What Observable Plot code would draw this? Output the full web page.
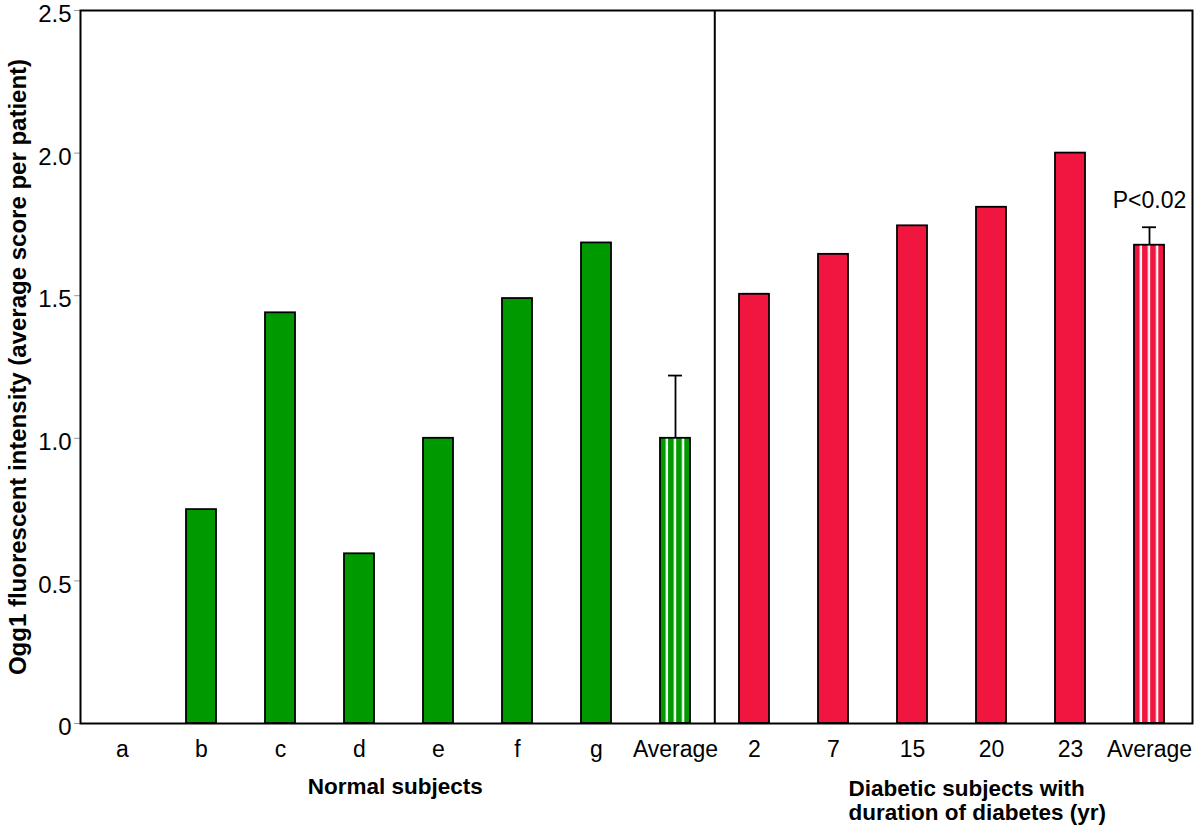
<!DOCTYPE html>
<html><head><meta charset="utf-8">
<script src="https://cdn.jsdelivr.net/npm/d3@7"></script>
<script src="https://cdn.jsdelivr.net/npm/@observablehq/plot@0.6"></script>
<style>body{margin:0;background:#fff}#chart{width:1198px;height:832px}</style>
</head><body><div id="chart"></div>
<script>
// ---- data ----
const normalLabels = ["a", "b", "c", "d", "e", "f", "g"];
const normalValues = [0, 0.75, 1.44, 0.595, 1.0, 1.49, 1.685];
const normalAverage = 1.0;
const normalError = 0.22;
const diabeticLabels = ["2", "7", "15", "20", "23"];
const diabeticValues = [1.505, 1.645, 1.745, 1.81, 2.0];
const diabeticAverage = 1.677;
const diabeticError = 0.063;
const averageLabel = "Average";
const yTicks = [0, 0.5, 1.0, 1.5, 2.0, 2.5];
const yLabel = "Ogg1 fluorescent intensity (average score per patient)";
const groupLabels = ["Normal subjects", "Diabetic subjects with\nduration of diabetes (yr)"];
const pLabel = "P<0.02";
const greenColor = "#009a00";
const redColor = "#f0163f";

// ---- tables ----
const bars = [
  ...normalLabels.map((l, i) => ({key: "N:" + l, value: normalValues[i], group: "normal"})),
  ...diabeticLabels.map((l, i) => ({key: "D:" + l, value: diabeticValues[i], group: "diabetic"}))
];
const avgs = [
  {key: "N:" + averageLabel, value: normalAverage, err: normalError, group: "normal"},
  {key: "D:" + averageLabel, value: diabeticAverage, err: diabeticError, group: "diabetic"}
];
const domain = [
  ...normalLabels.map(l => "N:" + l), "N:" + averageLabel,
  ...diabeticLabels.map(l => "D:" + l), "D:" + averageLabel
];

const W = 1198, H = 832;
const mL = 80, mR = 6, mT = 10, mB = 109;
const step = (W - mL - mR) / domain.length;
const font = "'Liberation Sans', Arial, Helvetica, sans-serif";

const chart = Plot.plot({
  width: W, height: H,
  marginLeft: mL, marginRight: mR, marginTop: mT, marginBottom: mB,
  style: {fontFamily: font, fontSize: "22px", color: "black", background: "white", overflow: "visible"},
  x: {domain, paddingInner: 0.62, paddingOuter: 0.31, axis: null},
  y: {domain: [0, 2.5], axis: null},
  marks: [
    // tick marks
    Plot.axisY({ticks: yTicks, tickFormat: () => "", tickSize: 6, stroke: "#999", label: null}),
    // tick labels (slightly lowered, as in the reference)
    Plot.axisY({ticks: yTicks, tickFormat: d => d === 0 ? "0" : d.toFixed(1), tickSize: 0, tickPadding: 9,
      fill: "black", fontSize: 24, dy: 4, label: null}),
    Plot.axisX({tickSize: 0, tickPadding: 17, tickFormat: k => k.slice(2), fill: "black", fontSize: 23, label: null}),
    Plot.barY(bars.filter(d => d.group === "normal"), {x: "key", y: "value", fill: greenColor, stroke: "black", strokeWidth: 1.8}),
    Plot.barY(bars.filter(d => d.group === "diabetic"), {x: "key", y: "value", fill: redColor, stroke: "black", strokeWidth: 1.8}),
    Plot.ruleX(avgs, {x: "key", y1: "value", y2: d => d.value + d.err, stroke: "black", strokeWidth: 1.8}),
    Plot.tickY(avgs, {x: "key", y: d => d.value + d.err, stroke: "black", strokeWidth: 1.8, inset: 8}),
    Plot.barY(avgs.filter(d => d.group === "normal"), {x: "key", y: "value", fill: "url(#stripesGreen)", stroke: "black", strokeWidth: 1.8}),
    Plot.barY(avgs.filter(d => d.group === "diabetic"), {x: "key", y: "value", fill: "url(#stripesRed)", stroke: "black", strokeWidth: 1.8}),
    Plot.text([pLabel], {x: () => "D:" + averageLabel, y: () => diabeticAverage + diabeticError, text: d => d, dy: -27, fontSize: 23, fill: "black"}),
    Plot.ruleX(["D:" + diabeticLabels[0]], {x: d => d, dx: -step / 2, stroke: "black", strokeWidth: 2}),
    Plot.frame({stroke: "black", strokeWidth: 2}),
    Plot.text([yLabel], {frameAnchor: "left", rotate: -90, dx: -62, textAnchor: "middle", lineAnchor: "middle", text: d => d, fontWeight: "bold", fontSize: 24, fill: "black"}),
    Plot.text([groupLabels[0]], {x: () => "N:d", frameAnchor: "bottom", lineAnchor: "top", dx: step / 2 - 4, dy: 55, text: d => d, fontWeight: "bold", fontSize: 22.5, fill: "black"}),
    Plot.text([groupLabels[1]], {x: () => "D:15", frameAnchor: "bottom", lineAnchor: "top", textAnchor: "start", dx: -64, dy: 55, text: d => d, fontWeight: "bold", fontSize: 22.5, lineHeight: 1.07, fill: "black"})
  ]
});

// stripe patterns for the average bars
const svg = d3.select(chart);
const defs = svg.insert("defs", ":first-child");
function stripes(id, color) {
  const g = 0.19, p = 0.27;
  const pat = defs.append("pattern").attr("id", id)
    .attr("patternUnits", "objectBoundingBox").attr("patternContentUnits", "objectBoundingBox")
    .attr("x", 0).attr("y", 0).attr("width", p).attr("height", 1);
  pat.append("rect").attr("x", 0).attr("y", 0).attr("width", p).attr("height", 1).attr("fill", "white");
  pat.append("rect").attr("x", 0).attr("y", 0).attr("width", g).attr("height", 1).attr("fill", color);
}
stripes("stripesGreen", greenColor);
stripes("stripesRed", redColor);

document.getElementById("chart").appendChild(chart);
</script>
</body></html>
